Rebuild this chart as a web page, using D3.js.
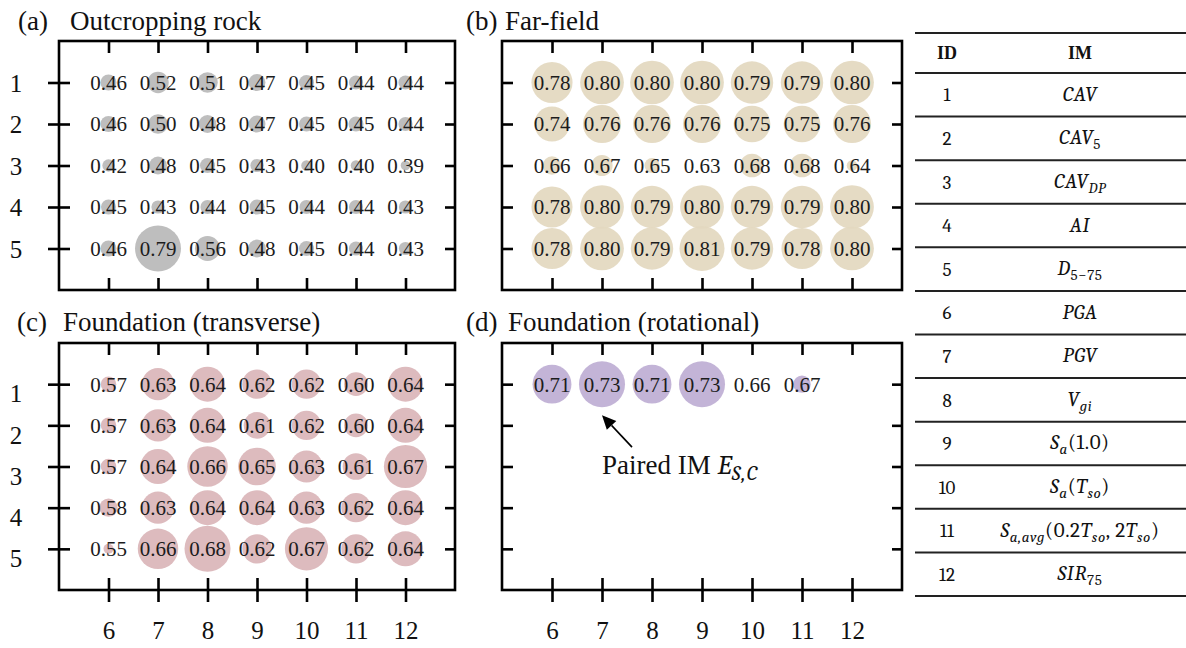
<!DOCTYPE html>
<html><head><meta charset="utf-8">
<script src="https://cdn.jsdelivr.net/npm/d3@7"></script>
<style>body{margin:0;background:#fff} svg{display:block}</style>
</head><body>
<svg id="chart" width="1186" height="648"></svg>
<script>
// ---------- DATA ----------
const xIDs = [6, 7, 8, 9, 10, 11, 12];
const yIDs = [1, 2, 3, 4, 5];

const valuesA = [
  [0.46, 0.52, 0.51, 0.47, 0.45, 0.44, 0.44],
  [0.46, 0.50, 0.48, 0.47, 0.45, 0.45, 0.44],
  [0.42, 0.48, 0.45, 0.43, 0.40, 0.40, 0.39],
  [0.45, 0.43, 0.44, 0.45, 0.44, 0.44, 0.43],
  [0.46, 0.79, 0.56, 0.48, 0.45, 0.44, 0.43]
];
const valuesB = [
  [0.78, 0.80, 0.80, 0.80, 0.79, 0.79, 0.80],
  [0.74, 0.76, 0.76, 0.76, 0.75, 0.75, 0.76],
  [0.66, 0.67, 0.65, 0.63, 0.68, 0.68, 0.64],
  [0.78, 0.80, 0.79, 0.80, 0.79, 0.79, 0.80],
  [0.78, 0.80, 0.79, 0.81, 0.79, 0.78, 0.80]
];
const valuesC = [
  [0.57, 0.63, 0.64, 0.62, 0.62, 0.60, 0.64],
  [0.57, 0.63, 0.64, 0.61, 0.62, 0.60, 0.64],
  [0.57, 0.64, 0.66, 0.65, 0.63, 0.61, 0.67],
  [0.58, 0.63, 0.64, 0.64, 0.63, 0.62, 0.64],
  [0.55, 0.66, 0.68, 0.62, 0.67, 0.62, 0.64]
];
const valuesD = [
  [0.71, 0.73, 0.71, 0.73, 0.66, 0.67]
];

const panelLetters = ["(a)", "(b)", "(c)", "(d)"];
const panelTitles = ["Outcropping rock", "Far-field", "Foundation (transverse)", "Foundation (rotational)"];

const tableHeader = ["ID", "IM"];
const tableIDs = [1, 2, 3, 4, 5, 6, 7, 8, 9, 10, 11, 12];
// segments: [text, style]  i = italic, r = roman, si = subscript italic, sr = subscript roman
const tableIM = [
  [["CAV", "i"]],
  [["CAV", "i"], ["5", "sr"]],
  [["CAV", "i"], ["DP", "si"]],
  [["AI", "i"]],
  [["D", "i"], ["5\u221275", "sr"]],
  [["PGA", "i"]],
  [["PGV", "i"]],
  [["V", "i"], ["gi", "si"]],
  [["S", "i"], ["a", "si"], ["(1.0)", "r"]],
  [["S", "i"], ["a", "si"], ["(", "r"], ["T", "i"], ["so", "si"], [")", "r"]],
  [["S", "i"], ["a,avg", "si"], ["(0.2", "r"], ["T", "i"], ["so", "si"], [", 2", "r"], ["T", "i"], ["so", "si"], [")", "r"]],
  [["SIR", "i"], ["75", "sr"]]
];

const annotationText = [["Paired IM ", "r"], ["E", "i"], ["S,C", "si"]];

// ---------- DRAW ----------
const svg = d3.select("#chart");
const SERIF = "'Liberation Serif','Times New Roman',serif";
const MATH = "Cambria, Caladea, 'Liberation Serif', serif";

const panels = [
  {values: valuesA, color: "#b8b8b8", x0: 59, x1: 455, y0: 41, y1: 290, showY: true, showX: false,
   tx: [18, 70], ty: 30, rType: "lin", rMin: 4.8, rMax: 23, yLabDy: 0},
  {values: valuesB, color: "#e3d8bf", x0: 502, x1: 902, y0: 41, y1: 290, showY: false, showX: false,
   tx: [466, 505], ty: 30, rType: "sqrt", rMin: 0, rMax: 22.5, yLabDy: 0},
  {values: valuesC, color: "#dab5b8", x0: 59, x1: 455, y0: 343, y1: 590, showY: true, showX: true,
   tx: [17, 63], ty: 331, rType: "lin", rMin: 5, rMax: 23, yLabDy: 9},
  {values: valuesD, color: "#beaed4", x0: 502, x1: 902, y0: 343, y1: 590, showY: false, showX: true,
   tx: [466, 508], ty: 331, rType: "sqrt", rMin: 0, rMax: 23, yLabDy: 0}
];

panels.forEach((p, pi) => {
  const g = svg.append("g");
  const x = d3.scaleLinear().domain([5, 13]).range([p.x0, p.x1]);
  const y = d3.scaleLinear().domain([0, 6]).range([p.y0, p.y1]);
  const ext = d3.extent(p.values.flat());
  // radius scale on the value above the panel minimum
  const rs = (p.rType === "lin" ? d3.scaleLinear() : d3.scaleSqrt())
    .domain([0, ext[1] - ext[0]]).range([p.rMin, p.rMax]);
  const r = v => rs(Math.max(0, v - ext[0]));

  const cells = [];
  p.values.forEach((row, ri) => row.forEach((v, ci) => cells.push({xi: xIDs[ci], yi: yIDs[ri], v})));

  g.selectAll("circle").data(cells).join("circle")
    .attr("cx", d => x(d.xi)).attr("cy", d => y(d.yi))
    .attr("r", d => r(d.v))
    .attr("fill", p.color).attr("fill-opacity", 0.92);

  g.selectAll("text.val").data(cells).join("text").attr("class", "val")
    .attr("x", d => x(d.xi)).attr("y", d => y(d.yi)).attr("dy", "0.35em")
    .attr("text-anchor", "middle")
    .attr("font-family", SERIF).attr("font-size", 21).attr("fill", "#1c1c1c")
    .text(d => d.v.toFixed(2));

  const tickStyle = sel => {
    sel.select(".domain").remove();
    sel.selectAll(".tick line").attr("stroke", "#000").attr("stroke-width", 2.6);
  };
  g.append("g").attr("transform", `translate(${p.x0},0)`)
    .call(d3.axisRight(y).tickValues(yIDs).tickSize(11).tickFormat(""))
    .call(tickStyle);
  if (p.showY) {
    const ax = g.append("g").attr("transform", `translate(${p.x0},0)`)
      .call(d3.axisLeft(y).tickValues(yIDs).tickSize(11).tickFormat(d3.format("d")))
      .call(tickStyle);
    ax.selectAll(".tick text")
      .attr("x", 16 - p.x0).attr("text-anchor", "middle").attr("dy", "0.35em")
      .attr("transform", `translate(0,${p.yLabDy})`)
      .attr("font-family", SERIF).attr("font-size", 25).attr("fill", "#111");
  }
  g.append("g").attr("transform", `translate(${p.x1},0)`)
    .call(d3.axisLeft(y).tickValues(yIDs).tickSize(10).tickFormat(""))
    .call(tickStyle);
  g.append("g").attr("transform", `translate(0,${p.y0})`)
    .call(d3.axisBottom(x).tickValues(xIDs).tickSize(12).tickFormat(""))
    .call(tickStyle);
  g.append("g").attr("transform", `translate(0,${p.y1})`)
    .call(d3.axisTop(x).tickValues(xIDs).tickSize(12).tickFormat(""))
    .call(tickStyle);
  if (p.showX) {
    const ax = g.append("g").attr("transform", `translate(0,${p.y1})`)
      .call(d3.axisBottom(x).tickValues(xIDs).tickSize(12).tickFormat(d3.format("d")))
      .call(tickStyle);
    ax.selectAll(".tick text")
      .attr("y", 0).attr("dy", 0).attr("transform", "translate(0,49)")
      .attr("font-family", SERIF).attr("font-size", 25).attr("fill", "#111");
  }

  g.append("rect").attr("x", p.x0).attr("y", p.y0)
    .attr("width", p.x1 - p.x0).attr("height", p.y1 - p.y0)
    .attr("fill", "none").attr("stroke", "#000").attr("stroke-width", 2.6);

  g.append("text").attr("x", p.tx[0]).attr("y", p.ty)
    .attr("font-family", SERIF).attr("font-size", 27).attr("fill", "#111").text(panelLetters[pi]);
  g.append("text").attr("x", p.tx[1]).attr("y", p.ty)
    .attr("font-family", SERIF).attr("font-size", 27).attr("fill", "#111").text(panelTitles[pi]);

  if (pi === 3) {
    const tip = [x(7), y(1) + 31];
    const tail = [x(7) + 30, y(1) + 63];
    const ang = Math.atan2(tip[1] - tail[1], tip[0] - tail[0]);
    const hl = 14, hw = 6.5;
    const base = [tip[0] - hl * Math.cos(ang), tip[1] - hl * Math.sin(ang)];
    g.append("line").attr("x1", tail[0]).attr("y1", tail[1]).attr("x2", base[0]).attr("y2", base[1])
      .attr("stroke", "#000").attr("stroke-width", 1.6);
    const px = -Math.sin(ang), py = Math.cos(ang);
    g.append("path").attr("d", `M${tip[0]},${tip[1]}L${base[0] + hw * px},${base[1] + hw * py}L${base[0] - hw * px},${base[1] - hw * py}Z`)
      .attr("fill", "#000");
    const t = g.append("text").attr("x", x(7)).attr("y", y(1) + 90)
      .attr("font-family", SERIF).attr("font-size", 27).attr("fill", "#111");
    annotationText.forEach(([s, st]) => {
      const ts = t.append("tspan").text(s);
      if (st === "i") ts.attr("font-style", "italic").attr("font-family", MATH).attr("font-size", 28);
      if (st === "si") ts.attr("font-style", "italic").attr("font-family", MATH).attr("font-size", 21)
        .attr("dy", 6).attr("letter-spacing", 1);
    });
  }
});

// ---------- TABLE ----------
const tx0 = 915, tx1 = 1186;
const ty = d3.scaleLinear().domain([0, 12]).range([73, 596]);
const colID = 947, colIM = 1080;
const tg = svg.append("g");
const lineYs = [33].concat(d3.range(13).map(i => ty(i)));
tg.selectAll("line").data(lineYs).join("line")
  .attr("x1", tx0).attr("x2", tx1).attr("y1", d => d).attr("y2", d => d)
  .attr("stroke", "#222").attr("stroke-width", 2);

tg.selectAll("text.hdr").data(tableHeader).join("text").attr("class", "hdr")
  .attr("x", (d, i) => i === 0 ? colID : colIM).attr("y", 53).attr("dy", "0.35em")
  .attr("text-anchor", "middle").attr("font-family", SERIF).attr("font-weight", "bold")
  .attr("font-size", 18).attr("fill", "#111").text(d => d);

tg.selectAll("text.id").data(tableIDs).join("text").attr("class", "id")
  .attr("x", colID).attr("y", (d, i) => (ty(i) + ty(i + 1)) / 2).attr("dy", "0.35em")
  .attr("text-anchor", "middle").attr("font-family", MATH).attr("font-size", 19)
  .attr("fill", "#111").text(d => d);

tableIM.forEach((segs, i) => {
  const t = tg.append("text").attr("x", colIM).attr("y", (ty(i) + ty(i + 1)) / 2 + 6)
    .attr("text-anchor", "middle").attr("font-family", MATH).attr("font-size", 21)
    .attr("letter-spacing", 0.6).attr("fill", "#111");
  let sub = false;
  segs.forEach(([s, st]) => {
    const ts = t.append("tspan").text(s);
    const isSub = st === "si" || st === "sr";
    if (st === "i" || st === "si") ts.attr("font-style", "italic");
    if (isSub) ts.attr("font-size", 15);
    if (isSub && !sub) ts.attr("dy", 5);
    if (!isSub && sub) ts.attr("dy", -5);
    sub = isSub;
  });
});
</script>
</body></html>
